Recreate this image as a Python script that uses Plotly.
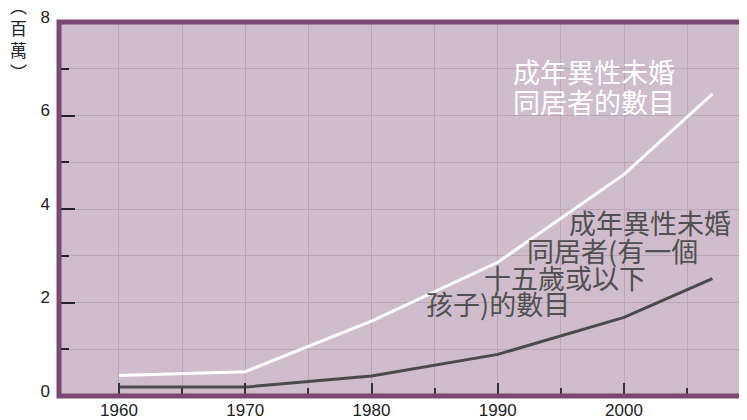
import plotly.graph_objects as go

years = [1960, 1970, 1980, 1990, 2000, 2007]
all_couples = [0.44, 0.52, 1.60, 2.86, 4.74, 6.46]
with_children = [0.19, 0.19, 0.43, 0.89, 1.68, 2.51]

x_ticks = [1960, 1970, 1980, 1990, 2000]
y_ticks = [0, 2, 4, 6, 8]

white_label = ["成年異性未婚", "同居者的數目"]
dark_label = ["成年異性未婚", "同居者(有一個", "十五歲或以下", "孩子)的數目"]
unit_title = "︵<br>百<br>萬<br>︶"

BG = "#cfbdcc"
GRID = "#bba6b8"
BORDER = "#7a4870"
DARK = "#4a4a4a"
CJK = "Noto Sans CJK TC"

fig = go.Figure()
fig.add_trace(go.Scatter(x=years, y=all_couples, mode="lines",
                         line=dict(color="white", width=3), hoverinfo="skip"))
fig.add_trace(go.Scatter(x=years, y=with_children, mode="lines",
                         line=dict(color=DARK, width=3), hoverinfo="skip"))

# white label
wl_pos = [(1991.05, 6.77), (1991.05, 6.12)]
for t, (x, y) in zip(white_label, wl_pos):
    fig.add_annotation(x=x, y=y, xref="x", yref="y", text=t, showarrow=False,
                       xanchor="left", yanchor="middle", yshift=8,
                       font=dict(family=CJK, size=27, color="white"))

dl_pos = [(1995.45, 3.55), (1992.15, 2.95), (1988.75, 2.37), (1984.15, 1.80)]
for t, (x, y) in zip(dark_label, dl_pos):
    fig.add_annotation(x=x, y=y, xref="x", yref="y", text=t, showarrow=False,
                       xanchor="left", yanchor="middle", yshift=8,
                       font=dict(family=CJK, size=27, color="#505050"))

# y axis unit title, stacked vertically
fig.add_annotation(x=0, y=0.955, xref="paper", yref="paper", xanchor="center", yanchor="middle",
                   xshift=-41, text=unit_title, showarrow=False,
                   font=dict(family=CJK, size=17, color="#222"))

fig.add_shape(type="rect", xref="paper", yref="paper", x0=0, y0=0, x1=1, y1=1,
              line=dict(color=BORDER, width=5), layer="above")

fig.update_layout(
    width=739, height=412,
    margin=dict(l=51, r=0, t=2, b=24),
    paper_bgcolor="white", plot_bgcolor=BG,
    showlegend=False,
    xaxis=dict(range=[1955.25, 2009.74], tickvals=x_ticks, ticks="inside", ticklen=13,
               tickwidth=1.5, tickcolor="#333", showgrid=True, gridcolor=GRID, gridwidth=1,
               zeroline=False, showline=False, ticklabelstandoff=2,
               tickfont=dict(family="Liberation Sans", size=17, color="#222"),
               minor=dict(tick0=1955, dtick=5, ticks="inside", ticklen=8, tickwidth=1.5,
                          tickcolor="#333", showgrid=True, gridcolor=GRID, gridwidth=1)),
    yaxis=dict(range=[0, 8], tickvals=y_ticks, ticks="inside", ticklen=16, tickwidth=2,
               tickcolor="#222", showgrid=True, gridcolor=GRID, gridwidth=1,
               zeroline=False, showline=False, ticklabelstandoff=8, ticklabelshift=-5,
               ticklabeloverflow="allow",
               tickfont=dict(family="Liberation Sans", size=17, color="#222"),
               minor=dict(dtick=1, ticks="inside", ticklen=10, tickwidth=2,
                          tickcolor="#222", showgrid=True, gridcolor=GRID, gridwidth=1)),
)

fig.write_html("out.html")
